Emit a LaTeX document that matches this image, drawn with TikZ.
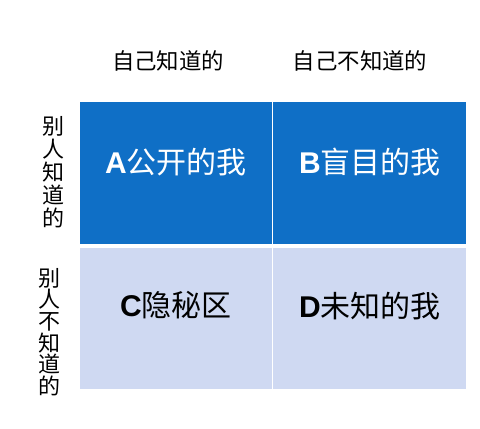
\documentclass[tikz,border=0pt]{standalone}
\usepackage{fontspec}
\setmainfont{Liberation Sans}
\newfontfamily\cjk{Noto Sans CJK SC}
\definecolor{darkcell}{HTML}{0F6FC6}
\definecolor{lightcell}{HTML}{CFD9F2}
\tikzset{
  cellbox/.style={inner sep=0pt, outer sep=0pt},
  celltext/.style={inner sep=0pt, font=\fontsize{30}{30}\selectfont},
  headtext/.style={inner sep=0pt, font=\cjk\fontsize{22.4}{24}\selectfont},
  sidetext/.style={inner sep=0pt, align=center}
}
\begin{document}
\begin{tikzpicture}[x=1pt,y=-1pt]
\useasboundingbox[fill=white] (0,0) rectangle (480,429);
% cells
\fill[darkcell] (80,102) rectangle (272.2,244);
\fill[darkcell] (273.4,102) rectangle (466,244);
\fill[lightcell] (80,247.6) rectangle (272.2,388.6);
\fill[lightcell] (273.4,247.6) rectangle (466,388.6);
% cell texts
\node[celltext, text=white] (a) at (176,162) {\textbf{A}{\cjk 公开的我}};
\node[celltext, text=white] (b) at (370,162) {\textbf{B}{\cjk 盲目的我}};
\node[celltext, text=black] (c) at (176,305) {\textbf{C}{\cjk 隐秘区}};
\node[celltext, text=black] (d) at (370,306) {\textbf{D}{\cjk 未知的我}};
% headers
\node[headtext] (h1) at (168,61) {自己知道的};
\node[headtext] (h2) at (360,61) {自己不知道的};
% side labels
\node[sidetext, font=\cjk\fontsize{22}{23}\selectfont] (s1) at (53,172) {别\\人\\知\\道\\的};
\node[sidetext, font=\cjk\fontsize{22}{21.6}\selectfont] (s2) at (49,332) {别\\人\\不\\知\\道\\的};
\end{tikzpicture}
\end{document}
